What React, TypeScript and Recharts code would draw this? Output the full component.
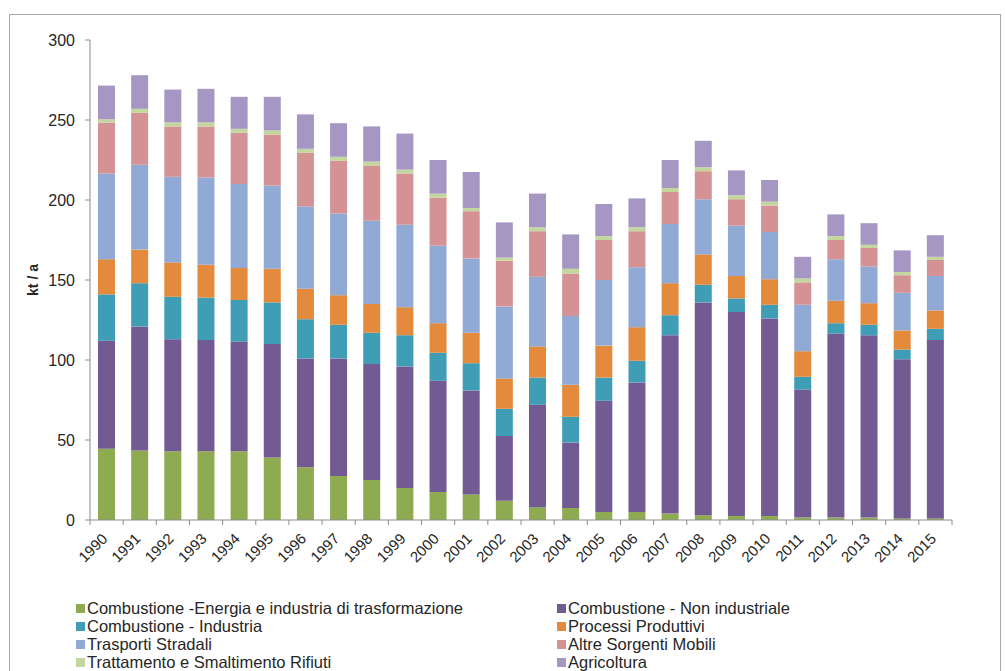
import React from 'react';
import { BarChart, Bar, XAxis, YAxis, Legend } from 'recharts';

const YEARS = [
  '1990', '1991', '1992', '1993', '1994', '1995', '1996', '1997', '1998', '1999', '2000', '2001', '2002',
  '2003', '2004', '2005', '2006', '2007', '2008', '2009', '2010', '2011', '2012', '2013', '2014', '2015',
];

const ENERGIA = [44.5, 43.5, 43, 43, 43, 39, 33, 27.5, 25, 20, 17.5, 16, 12, 8, 7.5, 5, 5, 4, 3, 2.5, 2.5, 1.5, 1.5, 1.5, 1, 1];
const NON_INDUSTRIALE = [67.5, 77.5, 70, 69.5, 68.5, 71, 68, 73.5, 72.5, 76, 69.5, 65, 40.5, 64, 41, 69.5, 81, 111.5, 133, 127.5, 123.5, 80, 115, 114, 99.5, 111.5];
const INDUSTRIA = [29, 27, 26.5, 26.5, 26, 26, 24.5, 21, 19.5, 19.5, 17.5, 17, 17, 17, 16, 14.5, 13.5, 12.5, 11, 8.5, 8.5, 8, 6.5, 6.5, 6, 7];
const PROCESSI = [22, 21, 21.5, 20.5, 20, 21, 19, 18.5, 18, 17.5, 18.5, 19, 19, 19.5, 20, 20, 21, 20, 19, 14, 16, 16, 14, 13.5, 12, 11.5];
const TRASPORTI = [53.5, 53, 53.5, 54.5, 52.5, 52, 51.5, 51, 52, 51.5, 48.5, 46.5, 45, 43.5, 43, 41, 37.5, 37, 34.5, 31.5, 29.5, 29, 26, 23, 23.5, 21.5];
const ALTRE_MOBILI = [32, 32.5, 31.5, 32, 32, 32, 33.5, 33, 34.5, 32, 30, 29.5, 28.5, 28.5, 26.5, 25, 22.5, 20, 17.5, 16.5, 16.5, 14, 12, 11.5, 11, 10];
const RIFIUTI = [2, 2.5, 2.5, 2.5, 2.5, 2.5, 2.5, 2.5, 2.5, 2.5, 2.5, 2, 2, 2.5, 3, 2.5, 2.5, 2.5, 2.5, 2.5, 2.5, 2.5, 2.5, 2, 2, 2];
const AGRICOLTURA = [21, 21, 20.5, 21, 20, 21, 21.5, 21, 22, 22.5, 21, 22.5, 22, 21, 21.5, 20, 18, 17.5, 16.5, 15.5, 13.5, 13.5, 13.5, 13.5, 13.5, 13.5];

const Y_TICKS = [0, 50, 100, 150, 200, 250, 300];

const SERIES = [
  { key: 'energia', name: 'Combustione -Energia e industria di trasformazione', color: '#8eab51', values: ENERGIA },
  { key: 'nonInd', name: 'Combustione - Non industriale', color: '#725a93', values: NON_INDUSTRIALE },
  { key: 'industria', name: 'Combustione - Industria', color: '#3f9db5', values: INDUSTRIA },
  { key: 'processi', name: 'Processi Produttivi', color: '#e38a3c', values: PROCESSI },
  { key: 'trasporti', name: 'Trasporti Stradali', color: '#90a9d5', values: TRASPORTI },
  { key: 'altre', name: 'Altre Sorgenti Mobili', color: '#d49294', values: ALTRE_MOBILI },
  { key: 'rifiuti', name: 'Trattamento e Smaltimento Rifiuti', color: '#c3d69d', values: RIFIUTI },
  { key: 'agri', name: 'Agricoltura', color: '#a696c4', values: AGRICOLTURA },
];

const data = YEARS.map((year, i) => {
  const row: Record<string, string | number> = { year };
  SERIES.forEach((s) => { row[s.key] = s.values[i]; });
  return row;
});

const FONT = '"Liberation Sans", Arial, sans-serif';
const AXIS_COLOR = '#8c8c8c';
const HALF_BAND = 862 / YEARS.length / 2;

function YearTick(props: any) {
  const { x, y, payload, index, visibleTicksCount } = props;
  return (
    <g>
      <line x1={x - HALF_BAND} y1={y} x2={x - HALF_BAND} y2={y + 5} stroke={AXIS_COLOR} />
      {index === visibleTicksCount - 1 && (
        <line x1={x + HALF_BAND} y1={y} x2={x + HALF_BAND} y2={y + 5} stroke={AXIS_COLOR} />
      )}
      <text
        x={x - 2}
        y={y + 16}
        dy="0.35em"
        textAnchor="end"
        transform={`rotate(-45, ${x - 2}, ${y + 16})`}
        fontSize={15}
        fontFamily={FONT}
        fill="#262626"
      >
        {payload.value}
      </text>
    </g>
  );
}

function YLabel(props: any) {
  const { viewBox } = props;
  const cx = viewBox.x + 8;
  const cy = viewBox.y + viewBox.height / 2;
  return (
    <text
      x={cx}
      y={cy}
      textAnchor="middle"
      transform={`rotate(-90, ${cx}, ${cy})`}
      fontSize={14}
      fontWeight="bold"
      fontFamily={FONT}
      fill="#262626"
    >
      kt / a
    </text>
  );
}

// legend kept in series order (Recharts sorts the payload by name)
function LegendGrid() {
  return (
    <div
      style={{
        display: 'grid',
        gridTemplateColumns: '481px 440px',
        paddingLeft: 76,
        height: 72,
        fontFamily: FONT,
        fontSize: 16.5,
        color: '#262626',
      }}
    >
      {SERIES.map((s) => (
        <div key={s.key} style={{ display: 'flex', alignItems: 'center', height: 18, whiteSpace: 'nowrap' }}>
          <span style={{ width: 9, height: 9, background: s.color, marginRight: 2, display: 'inline-block' }} />
          {s.name}
        </div>
      ))}
    </div>
  );
}

export default function App() {
  return (
    <div style={{ position: 'relative', width: 1005, height: 671, background: '#fff', overflow: 'hidden' }}>
      <style>{'body{margin:0;overflow:hidden;}'}</style>
      <div
        style={{
          position: 'absolute',
          left: 9,
          top: 14,
          width: 990,
          height: 700,
          border: '1px solid #a8a8a8',
        }}
      />
      <div style={{ position: 'absolute', left: 0, top: 0 }}>
        <BarChart
          width={1005}
          height={671}
          data={data}
          margin={{ top: 40, right: 53, left: 30, bottom: 0 }}
          barSize={17}
        >
          <XAxis
            dataKey="year"
            interval={0}
            height={79}
            tickLine={false}
            tickSize={0}
            tickMargin={0}
            axisLine={{ stroke: AXIS_COLOR }}
            tick={<YearTick />}
          />
          <YAxis
            width={60}
            domain={[0, 300]}
            ticks={Y_TICKS}
            interval={0}
            tickSize={5}
            tickMargin={10}
            axisLine={{ stroke: AXIS_COLOR }}
            tickLine={{ stroke: AXIS_COLOR }}
            tick={{ fill: '#262626', fontSize: 16, fontFamily: FONT }}
            label={<YLabel />}
          />
          <Legend
            verticalAlign="bottom"
            align="left"
            height={72}
            wrapperStyle={{ left: 0, width: 1005 }}
            content={<LegendGrid />}
          />
          {SERIES.map((s) => (
            <Bar
              key={s.key}
              dataKey={s.key}
              name={s.name}
              stackId="a"
              fill={s.color}
              isAnimationActive={false}
            />
          ))}
        </BarChart>
      </div>
    </div>
  );
}
